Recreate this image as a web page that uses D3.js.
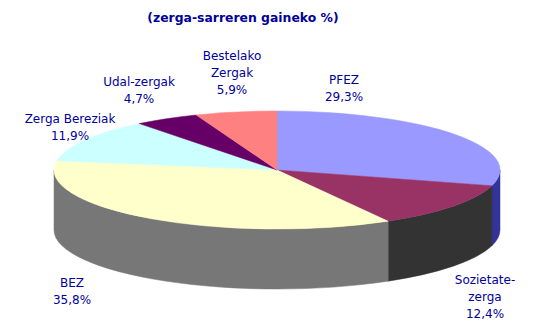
<!DOCTYPE html>
<html>
<head>
<meta charset="utf-8">
<script src="https://cdn.jsdelivr.net/npm/d3@7"></script>
<style>
  html, body { margin: 0; padding: 0; background: #fff; }
  svg { display: block; }
  text { font-family: "DejaVu Sans", Verdana, sans-serif; fill: #000099; }
</style>
</head>
<body>
<svg id="chart" width="556" height="323"></svg>
<script>
// ---- data ----
const categories = ["PFEZ", "Sozietate-zerga", "BEZ", "Zerga Bereziak", "Udal-zergak", "Bestelako Zergak"];
const values = [29.3, 12.4, 35.8, 11.9, 4.7, 5.9];
const valueLabels = ["29,3%", "12,4%", "35,8%", "11,9%", "4,7%", "5,9%"];
const labelLines = [["PFEZ"], ["Sozietate-", "zerga"], ["BEZ"], ["Zerga Bereziak"], ["Udal-zergak"], ["Bestelako", "Zergak"]];
const topColors = ["#9999FF", "#993366", "#FFFFCC", "#CCFFFF", "#660066", "#FF8080"];
const sideColors = ["#333399", "#333333", "#777777", "#6A8080", "#330033", "#804040"];
const title = "(zerga-sarreren gaineko %)";

// ---- layout ----
const W = 556, H = 323;
const cx = 277, cy = 170, rx = 223, ry = 59, depth = 60;
const labelPos = [ // label anchor (center x, first baseline)
  [344, 84], [485, 284], [72, 287], [70, 123], [139, 86], [232, 60]
];
const lineH = 17;

const svg = d3.select("#chart");

const pie = d3.pie().sort(null).value(d => d).startAngle(0).endAngle(2 * Math.PI);
const arcs = pie(values);

const pt = (a, dy = 0) => [cx + rx * Math.sin(a), cy - ry * Math.cos(a) + dy];

// sides (visible front rim between PI/2 and 3PI/2)
const sideG = svg.append("g");
arcs.forEach((d, i) => {
  const s0 = Math.max(d.startAngle, Math.PI / 2);
  const s1 = Math.min(d.endAngle, 3 * Math.PI / 2);
  if (s1 <= s0) return;
  const p0 = pt(s0), p1 = pt(s1), q1 = pt(s1, depth), q0 = pt(s0, depth);
  const large = (s1 - s0) > Math.PI ? 1 : 0;
  const path = `M${p0[0]},${p0[1]} A${rx},${ry} 0 ${large} 1 ${p1[0]},${p1[1]} ` +
               `L${q1[0]},${q1[1]} A${rx},${ry} 0 ${large} 0 ${q0[0]},${q0[1]} Z`;
  sideG.append("path").attr("d", path).attr("fill", sideColors[i]).attr("stroke", sideColors[i]).attr("stroke-width", 0.5);
});

// tops
const topG = svg.append("g");
arcs.forEach((d, i) => {
  const p0 = pt(d.startAngle), p1 = pt(d.endAngle);
  const large = (d.endAngle - d.startAngle) > Math.PI ? 1 : 0;
  const path = `M${cx},${cy} L${p0[0]},${p0[1]} A${rx},${ry} 0 ${large} 1 ${p1[0]},${p1[1]} Z`;
  topG.append("path").attr("d", path).attr("fill", topColors[i]).attr("stroke", topColors[i]).attr("stroke-width", 0.5);
});

// title
svg.append("text").attr("x", 243).attr("y", 22).attr("text-anchor", "middle")
  .style("font-size", "12.4px").style("font-weight", "bold").text(title);

// labels
const labG = svg.append("g");
categories.forEach((c, i) => {
  const lines = labelLines[i].concat([valueLabels[i]]);
  const t = labG.append("text").attr("text-anchor", "middle").style("font-size", "12px");
  lines.forEach((ln, k) => {
    t.append("tspan").attr("x", labelPos[i][0]).attr("y", labelPos[i][1] + k * lineH).text(ln);
  });
});
</script>
</body>
</html>
